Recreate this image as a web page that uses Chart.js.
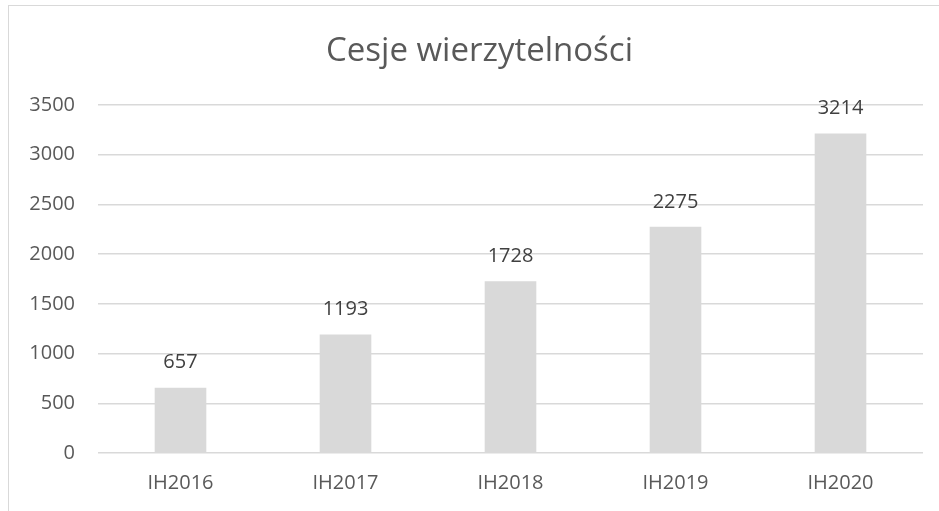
<!DOCTYPE html>
<html>
<head>
<meta charset="utf-8">
<script src="https://cdn.jsdelivr.net/npm/chart.js@4"></script>
<style>
    html, body { margin: 0; padding: 0; background: #fff; overflow: hidden; }
    #frame { position: absolute; left: 8px; top: 5px; width: 1000px; height: 600px; border: 1px solid #d9d9d9; }
    #wrap { position: absolute; left: 0; top: 0; width: 939px; height: 511px; }
</style>
</head>
<body>
<div id="frame"></div>
<div id="wrap"><canvas id="chart_canvas" width="939" height="511"></canvas></div>
<script>
const categories = ["IH2016", "IH2017", "IH2018", "IH2019", "IH2020"];
const cession_values = [657, 1193, 1728, 2275, 3214];
const chart_title = "Cesje wierzytelności";

const font_family = "'Open Sans', sans-serif";

// draws the value above every bar, Excel-style
const value_labels = {
    id: "value_labels",
    afterDatasetsDraw(chart){
        let ctx = chart.ctx;
        ctx.save();
        ctx.font = "20px " + font_family;
        ctx.fillStyle = "#404040";
        ctx.textAlign = "center";
        ctx.textBaseline = "middle";
        chart.getDatasetMeta(0).data.forEach((bar, i)=>{
            ctx.fillText(String(cession_values[i]), bar.x, bar.y - 25);
        });
        ctx.restore();
    }
};

// the title is centred on the outer frame, not on the plot
const title_shift = {
    id: "title_shift",
    afterLayout(chart){
        if (chart.titleBlock){
            chart.titleBlock.left = 36;
        }
    }
};

document.addEventListener("DOMContentLoaded", ()=>{
    let canvas = document.getElementById("chart_canvas");
    new Chart(canvas, {
        type: "bar",
        data: {
            labels: categories,
            datasets: [{
                label: chart_title,
                data: cession_values,
                backgroundColor: "#d9d9d9",
                categoryPercentage: 1,
                barPercentage: 0.313
            }]
        },
        options: {
            responsive: false,
            animation: false,
            layout: { padding: { left: 0, right: 16, top: 0, bottom: 0 } },
            plugins: {
                legend: { display: false },
                tooltip: { enabled: false },
                title: {
                    display: true,
                    text: chart_title,
                    color: "#595959",
                    font: { family: font_family, size: 33, weight: "normal" },
                    padding: { top: 32, bottom: 33.4 }
                }
            },
            scales: {
                x: {
                    grid: { display: false, drawTicks: false },
                    border: { display: false },
                    ticks: {
                        color: "#595959",
                        font: { family: font_family, size: 20 },
                        padding: 18
                    },
                    afterFit(scale){ scale.height = 58; }
                },
                y: {
                    min: 0,
                    max: 3500,
                    ticks: {
                        stepSize: 500,
                        color: "#595959",
                        font: { family: font_family, size: 20 },
                        padding: 23,
                        callback: (value)=>String(value)
                    },
                    grid: { color: "#d9d9d9", lineWidth: 1.5, drawTicks: false },
                    border: { display: false },
                    afterFit(scale){ scale.width = 98; }
                }
            }
        },
        plugins: [value_labels, title_shift]
    });
});
</script>
</body>
</html>
